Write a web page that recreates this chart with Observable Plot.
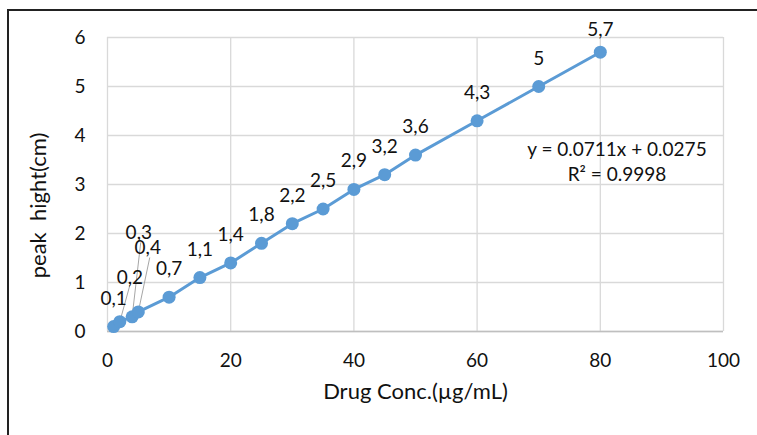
<!DOCTYPE html>
<html>
<head>
<meta charset="utf-8">
<script src="https://cdn.jsdelivr.net/npm/d3@7"></script>
<script src="https://cdn.jsdelivr.net/npm/@observablehq/plot@0.6"></script>
<style>
  html, body { margin: 0; padding: 0; background: #fff; overflow: hidden; width: 757px; height: 435px; }
  #frame { position: absolute; left: 7px; top: 9px; width: 800px; height: 500px; border-left: 2px solid #222; border-top: 2px solid #222; box-sizing: border-box; }
  #chart { position: absolute; left: 0; top: 0; }
  #chart svg text { white-space: pre; }
</style>
</head>
<body>
<div id="frame"></div>
<div id="chart"></div>
<script>
const conc = [1, 2, 4, 5, 10, 15, 20, 25, 30, 35, 40, 45, 50, 60, 70, 80];
const peak = [0.1, 0.2, 0.3, 0.4, 0.7, 1.1, 1.4, 1.8, 2.2, 2.5, 2.9, 3.2, 3.6, 4.3, 5, 5.7];
const pointLabels = ["0,1", "0,2", "0,3", "0,4", "0,7", "1,1", "1,4", "1,8", "2,2", "2,5", "2,9", "3,2", "3,6", "4,3", "5", "5,7"];
const xTicks = [0, 20, 40, 60, 80, 100];
const yTicks = [0, 1, 2, 3, 4, 5, 6];
const xTitle = "Drug Conc.(µg/mL)";
const yTitle = "peak  hight(cm)";
const equationLines = ["y = 0.0711x + 0.0275", "R² = 0.9998"];

// labels moved away from their points (drawn with leader lines), data units
const leaderIndex = [1, 2, 3];
const leaderLabelX = [3.62, 5.08, 6.53];
const leaderLabelY = [1.10, 2.02, 1.71];
const leaderEndX = [3.62, 5.4, 6.86];
const leaderEndY = [0.94, 1.82, 1.51];
// label kept inside the plot area (smaller offset)
const topLabelIndex = [15];
// equation annotation anchor (data units)
const eqX = 82.7;
const eqY = [3.71, 3.2];

const pts = conc.map((c, i) => ({x: c, y: peak[i], label: pointLabels[i], i}));
const normal = pts.filter(d => !leaderIndex.includes(d.i) && !topLabelIndex.includes(d.i));
const topLabels = pts.filter(d => topLabelIndex.includes(d.i));
const moved = leaderIndex.map((idx, k) => ({x: pts[idx].x, y: pts[idx].y, lx: leaderLabelX[k], ly: leaderLabelY[k], ex: leaderEndX[k], ey: leaderEndY[k], label: pts[idx].label}));
const eq = equationLines.map((t, k) => ({t, x: eqX, y: eqY[k]}));

const FONT = "Lato, 'Open Sans', sans-serif";
const blue = "#5b9bd5";
const FS = 19;

const chart = Plot.plot({
  width: 757,
  height: 435,
  marginLeft: 107,
  marginRight: 34,
  marginTop: 37,
  marginBottom: 104,
  style: {fontFamily: FONT, fontSize: FS + "px", color: "#000", background: "transparent", overflow: "visible"},
  x: {domain: [0, 100], ticks: xTicks, label: null},
  y: {domain: [0, 6], ticks: yTicks, label: null},
  marks: [
    Plot.gridX(xTicks, {stroke: "#d9d9d9", strokeOpacity: 1, strokeWidth: 1.3}),
    Plot.gridY(yTicks, {stroke: "#d9d9d9", strokeOpacity: 1, strokeWidth: 1.3}),
    Plot.ruleY([0], {stroke: "#bfbfbf", strokeWidth: 1.5}),
    Plot.axisX(xTicks, {tickSize: 0, tickPadding: 22, fontSize: FS, fill: "#111"}),
    Plot.axisY(yTicks, {tickSize: 0, tickPadding: 22, fontSize: FS, fill: "#111"}),
    Plot.link(moved, {x1: "x", y1: "y", x2: "ex", y2: "ey", stroke: "#a6a6a6", strokeWidth: 1}),
    Plot.line(pts, {x: "x", y: "y", stroke: blue, strokeWidth: 3}),
    Plot.dot(pts, {x: "x", y: "y", r: 6.5, fill: blue, stroke: blue, strokeWidth: 0}),
    Plot.text(normal, {x: "x", y: "y", text: "label", dy: -28, fontSize: FS, fill: "#111"}),
    Plot.text(topLabels, {x: "x", y: "y", text: "label", dy: -22, fontSize: FS, fill: "#111"}),
    Plot.text(moved, {x: "lx", y: "ly", text: "label", fontSize: FS, fill: "#111"}),
    Plot.text(eq, {x: "x", y: "y", text: "t", fontSize: FS, fill: "#111"}),
    Plot.text([xTitle], {frameAnchor: "bottom", dy: 67, fontSize: 22, fill: "#111"}),
    Plot.text([yTitle], {frameAnchor: "left", textAnchor: "middle", dx: -69, dy: 21, rotate: -90, fontSize: 22, fill: "#111"})
  ]
});
document.getElementById("chart").appendChild(chart);
</script>
</body>
</html>
